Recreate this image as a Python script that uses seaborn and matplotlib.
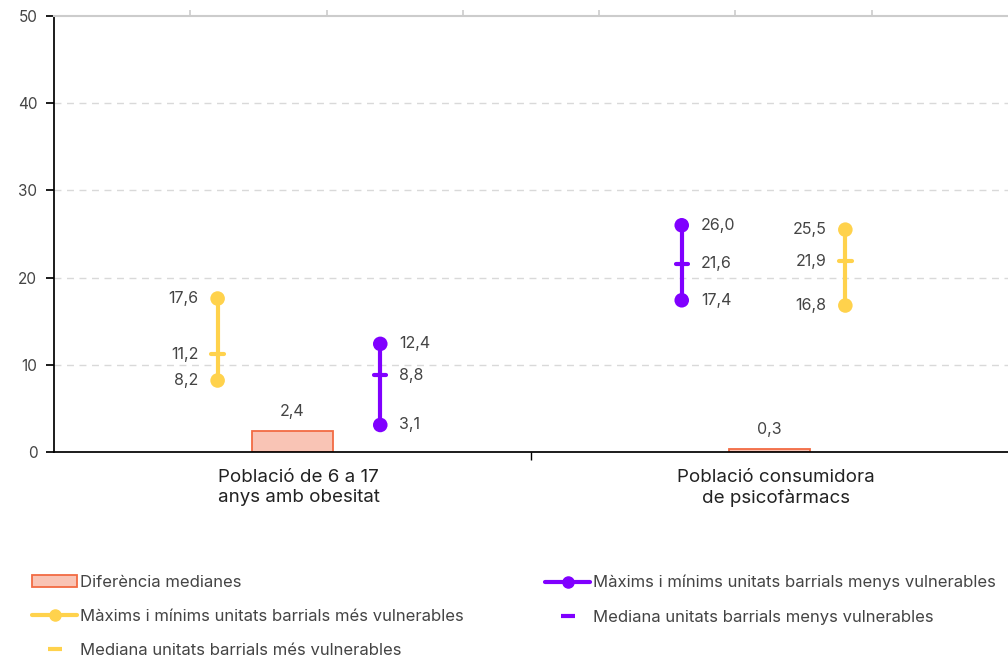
import numpy as np
import pandas as pd
import matplotlib
matplotlib.use("Agg")
import matplotlib.pyplot as plt
import matplotlib.transforms as mtransforms
from matplotlib.lines import Line2D
from matplotlib.patches import Patch
import seaborn as sns

# data
categories = ["Població de 6 a 17\nanys amb obesitat", "Població consumidora\nde psicofàrmacs"]
diff_medians = [2.4, 0.3]
more_min = [8.2, 16.8]
more_med = [11.2, 21.9]
more_max = [17.6, 25.5]
less_min = [3.1, 17.4]
less_med = [8.8, 21.6]
less_max = [12.4, 26.0]

# horizontal offsets of each series inside its group (layout only)
more_offset = [-0.157, 0.159]
less_offset = [0.184, -0.184]

YELLOW = "#FFD24C"
PURPLE = "#8000FF"
BAR_FILL = "#F9C4B5"
BAR_EDGE = "#F26B43"
TXT = "#444444"

sns.set_theme(style="white")
plt.rcParams['font.family'] = ['Inter', 'DejaVu Sans']

fig = plt.figure(figsize=(10.08, 6.61), dpi=100)
ax = fig.add_axes([54/1008, 1-452/661, 1-54/1008, (452-16)/661])

df = pd.DataFrame({"cat": categories, "diff": diff_medians})
sns.barplot(data=df, x="cat", y="diff", ax=ax, width=0.168, color=BAR_FILL,
            edgecolor=BAR_EDGE, linewidth=1.3, saturation=1)

def fmt(v):
    return f"{v:.1f}".replace(".", ",")

for i in range(len(categories)):
    ax.text(i, diff_medians[i] + 2.3, fmt(diff_medians[i]), ha="center", va="center",
            fontsize=11.5, color=TXT)
    # more vulnerable (yellow), labels on left
    x = i + more_offset[i]
    ax.plot([x, x], [more_min[i], more_max[i]], color=YELLOW, lw=3, solid_capstyle="butt", zorder=3)
    ax.plot([x - 0.013, x + 0.013], [more_med[i], more_med[i]], color=YELLOW, lw=3, zorder=3)
    for v in (more_min[i], more_med[i], more_max[i]):
        ax.text(x - 0.04, v, fmt(v), ha="right", va="center", fontsize=11.5, color=TXT)
    # less vulnerable (purple), labels on right
    x = i + less_offset[i]
    ax.plot([x, x], [less_min[i], less_max[i]], color=PURPLE, lw=3, solid_capstyle="butt", zorder=3)
    ax.plot([x - 0.013, x + 0.013], [less_med[i], less_med[i]], color=PURPLE, lw=3, zorder=3)
    for v in (less_min[i], less_med[i], less_max[i]):
        ax.text(x + 0.04, v, fmt(v), ha="left", va="center", fontsize=11.5, color=TXT)

pts = pd.DataFrame({
    "x": [i + more_offset[i] for i in range(2)] * 2 + [i + less_offset[i] for i in range(2)] * 2,
    "y": more_min + more_max + less_min + less_max,
    "s": ["more"] * 4 + ["less"] * 4,
})
sns.scatterplot(data=pts, x="x", y="y", hue="s", palette={"more": YELLOW, "less": PURPLE},
                s=110, edgecolor="none", ax=ax, legend=False, zorder=4)

ax.set_xlim(-0.5, 1.5)
ax.set_ylim(0, 50)
ax.set_yticks([0, 10, 20, 30, 40, 50])
ax.set_xticks([0, 1])
ax.set_xticklabels(categories, linespacing=1.25)
ax.set_xticks([0.5], minor=True)
ax.set_xlabel("")
ax.set_ylabel("")
ax.tick_params(axis="x", which="major", length=0, pad=12, labelsize=13.5, labelcolor="#222222")
ax.tick_params(axis="x", which="minor", length=6, color="black", bottom=True)
ax.tick_params(axis="y", length=6, color="black", left=True, pad=6, labelsize=11, labelcolor=TXT)
# category labels sit a little right of the group centre
shift = mtransforms.ScaledTranslation(6/100, 0, fig.dpi_scale_trans)
for lab in ax.get_xticklabels():
    lab.set_transform(lab.get_transform() + shift)
for y in [10, 20, 30, 40]:
    ax.axhline(y, color="#d9d9d9", lw=1, ls=(0, (5, 4)), zorder=0)

ax.spines["right"].set_visible(False)
ax.spines["left"].set_color("black")
ax.spines["bottom"].set_color("black")
ax.spines["top"].set_color("#cccccc")
ax.spines["top"].set_linewidth(1.5)

top = ax.secondary_xaxis("top")
top.set_xticks([-0.5 + k * 2 / 7 for k in range(1, 7)])
top.set_xticklabels([])
top.tick_params(length=4, color="#cccccc", width=1.2)
top.spines["top"].set_visible(False)

# legend
h_bar = Patch(facecolor=BAR_FILL, edgecolor=BAR_EDGE, linewidth=1.3)
h_more = Line2D([], [], color=YELLOW, lw=3, marker="o", markersize=8)
h_more_med = Line2D([], [], color=YELLOW, lw=0, marker="_", markersize=10, markeredgewidth=3)
h_less = Line2D([], [], color=PURPLE, lw=3, marker="o", markersize=8)
h_less_med = Line2D([], [], color=PURPLE, lw=0, marker="_", markersize=10, markeredgewidth=3)

kw = dict(frameon=False, loc="upper left", fontsize=12, handlelength=2.7, handletextpad=0.2,
          labelspacing=1.15, borderpad=0, borderaxespad=0, handleheight=0.7, labelcolor=TXT)
fig.legend([h_bar, h_more, h_more_med],
           ["Diferència medianes", "Màxims i mínims unitats barrials més vulnerables",
            "Mediana unitats barrials més vulnerables"],
           bbox_to_anchor=(32/1008, 1-575/661), **kw)
fig.legend([h_less, h_less_med],
           ["Màxims i mínims unitats barrials menys vulnerables",
            "Mediana unitats barrials menys vulnerables"],
           bbox_to_anchor=(545/1008, 1-575/661), **kw)

fig.savefig("out.png", dpi=100)
